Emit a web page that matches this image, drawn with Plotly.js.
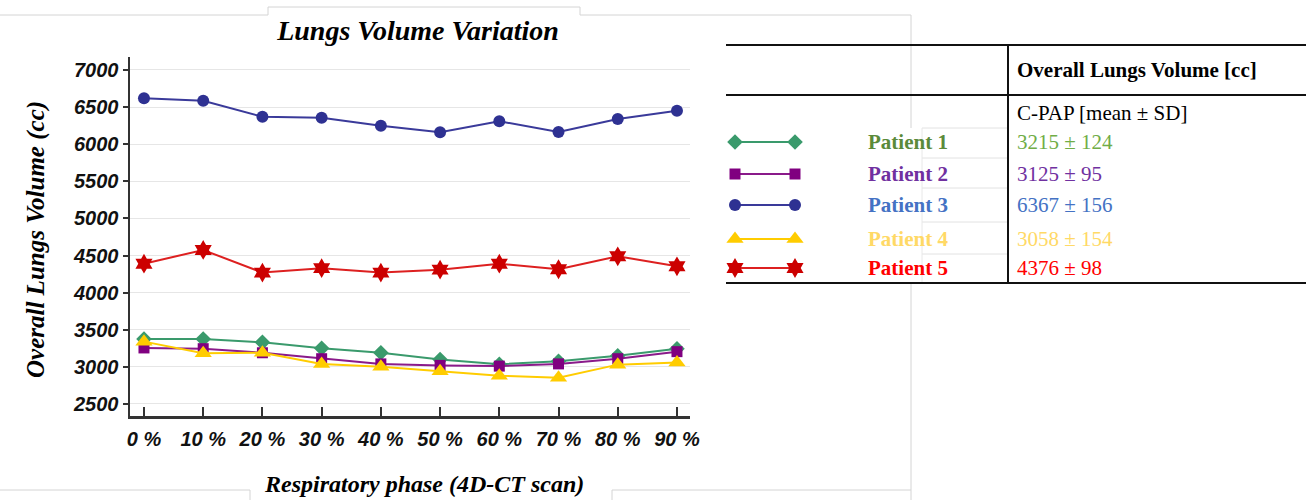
<!DOCTYPE html>
<html><head><meta charset="utf-8">
<script src="https://cdn.plot.ly/plotly-3.0.1.min.js"></script>
<style>html,body{margin:0;padding:0;background:#fff}#chart{width:1306px;height:500px}</style>
</head><body><div id="chart"></div>
<script>
// ---- data ----
const phases = [0, 10, 20, 30, 40, 50, 60, 70, 80, 90];
const phaseLabels = ['0 %', '10 %', '20 %', '30 %', '40 %', '50 %', '60 %', '70 %', '80 %', '90 %'];
const patientNames = ['Patient 1', 'Patient 2', 'Patient 3', 'Patient 4', 'Patient 5'];
const patient1 = [3375, 3375, 3330, 3250, 3190, 3100, 3035, 3075, 3150, 3245];
const patient2 = [3255, 3245, 3190, 3110, 3040, 3020, 3010, 3040, 3110, 3205];
const patient3 = [6620, 6585, 6370, 6355, 6250, 6160, 6310, 6165, 6340, 6450];
const patient4 = [3340, 3185, 3190, 3040, 3000, 2940, 2880, 2855, 3030, 3060];
const patient5 = [4390, 4575, 4270, 4330, 4270, 4310, 4390, 4315, 4490, 4355];
const meanSD = ['3215 ± 124', '3125 ± 95', '6367 ± 156', '3058 ± 154', '4376 ± 98'];

// ---- styles ----
const W = 1306, H = 500;
const styles = [
  {line: '#3a9a6c', marker: '#3a9a6c', symbol: 'diamond', size: 12, label: '#5b8a3a', value: '#70ad47'},
  {line: '#8a1a8a', marker: '#800080', symbol: 'square', size: 11, label: '#7030a0', value: '#7030a0'},
  {line: '#3a3a9a', marker: '#2e3192', symbol: 'circle', size: 12, label: '#4472c4', value: '#4472c4'},
  {line: '#ffcc00', marker: '#ffcc00', symbol: 'triangle-up', size: 15, label: '#ffd966', value: '#ffd966'},
  {line: '#dd2020', marker: '#cc0000', symbol: 'hexagram', size: 15, label: '#ff0000', value: '#ff0000'}
];
const series = [patient1, patient2, patient3, patient4, patient5];

const traces = [];
series.forEach((ys, i) => {
  const s = styles[i];
  traces.push({
    x: phases, y: ys, type: 'scatter', mode: 'lines+markers', name: patientNames[i],
    line: {color: s.line, width: 2},
    marker: {color: s.marker, symbol: s.symbol, size: s.size},
    showlegend: false, hoverinfo: 'x+y', cliponaxis: false
  });
});

// legend samples in the table (pixel axes spanning the whole figure)
const rowY = [142, 174, 205, 239, 268];
series.forEach((ys, i) => {
  const s = styles[i];
  traces.push({
    x: [735, 795], y: [rowY[i], rowY[i]], xaxis: 'x2', yaxis: 'y2',
    type: 'scatter', mode: 'lines+markers',
    line: {color: s.line, width: 2},
    marker: {color: s.marker, symbol: s.symbol, size: s.size},
    showlegend: false, hoverinfo: 'skip', cliponaxis: false
  });
});

const px = v => v / W, py = v => 1 - v / H;

const shapes = [];
const L = (x0, y0, x1, y1, color, width) => shapes.push({type: 'line', xref: 'paper', yref: 'paper',
  x0: px(x0), y0: py(y0), x1: px(x1), y1: py(y1), line: {color, width}, layer: 'below'});
// faint frame artefacts
const g = '#d4d4d4';
L(0, 15, 268, 15, g, 1); L(268, 7, 580, 7, g, 1); L(268, 7, 268, 15, g, 1); L(580, 7, 580, 15, g, 1);
L(580, 15, 911, 15, g, 1); L(911, 15, 911, 128, g, 1); L(911, 283, 911, 500, g, 1);
L(0, 490, 250, 490, g, 1); L(250, 490, 250, 500, g, 1); L(612, 490, 911, 490, g, 1); L(612, 490, 612, 500, g, 1);
// table cell faint borders
[128, 158, 188, 222, 254].forEach(y => L(922, y, 1008, y, '#e2e2e2', 1));
L(922, 128, 922, 283, '#e8e8e8', 1);
// table rules
L(726, 45, 1306, 45, '#111', 2);
L(726, 95, 1306, 95, '#111', 2);
L(726, 283, 1306, 283, '#111', 2);
L(1008, 45, 1008, 283, '#111', 2);

const annotations = [];
const A = (x, y, text, font, xanchor, extra) => annotations.push(Object.assign({xref: 'paper', yref: 'paper',
  x: px(x), y: py(y), xanchor: xanchor || 'left', yanchor: 'middle', showarrow: false, text, font}, extra || {}));
A(1015, 70, 'Overall Lungs Volume [cc]', {family: 'Liberation Serif, serif', size: 21, color: '#000', weight: 'bold'});
A(1015, 113, 'C-PAP [mean ± SD]', {family: 'Liberation Serif, serif', size: 21, color: '#000'});
patientNames.forEach((n, i) => {
  A(908, rowY[i], n, {family: 'Liberation Serif, serif', size: 21, color: styles[i].label, weight: 'bold'}, 'center');
  A(1015, rowY[i], meanSD[i], {family: 'Liberation Serif, serif', size: 21, color: styles[i].value});
});
// axis titles
A(424, 484, 'Respiratory phase (4D-CT scan)', {family: 'Liberation Serif, serif', size: 24, color: '#000', weight: 'bold', style: 'italic'}, 'center');
A(36, 240, 'Overall Lungs Volume (cc)', {family: 'Liberation Serif, serif', size: 25, color: '#000', weight: 'bold', style: 'italic'}, 'center', {textangle: -90});

const tickFont = {family: 'Liberation Sans, Arial, sans-serif', size: 20, color: '#111', weight: 'bold', style: 'italic'};

const layout = {
  width: W, height: H,
  margin: {l: 0, r: 0, t: 0, b: 0},
  paper_bgcolor: '#fff', plot_bgcolor: 'rgba(0,0,0,0)',
  showlegend: false,
  title: {text: 'Lungs Volume Variation', x: px(418), xanchor: 'center', y: py(30), yanchor: 'middle', xref: 'paper', yref: 'paper',
    font: {family: 'Liberation Serif, serif', size: 28, color: '#000', weight: 'bold', style: 'italic'}},
  xaxis: {domain: [px(130), px(690)], range: [-2.36, 92.2], tickvals: phases, ticktext: phaseLabels,
    showgrid: false, zeroline: false, showline: true, linecolor: '#333', linewidth: 2.5,
    ticks: 'inside', ticklen: 9, tickwidth: 2, tickcolor: '#333', tickfont: tickFont, ticklabelstandoff: 3, anchor: 'y'},
  yaxis: {domain: [py(416), py(57)], range: [2338, 7175], tickvals: [2500, 3000, 3500, 4000, 4500, 5000, 5500, 6000, 6500, 7000],
    showgrid: true, gridcolor: '#e6e6e6', gridwidth: 1, zeroline: false, showline: true, linecolor: '#333', linewidth: 2.5,
    ticks: 'outside', ticklen: 5, tickwidth: 2, tickcolor: '#333', tickfont: tickFont, anchor: 'x'},
  xaxis2: {domain: [0, 1], range: [0, W], visible: false, fixedrange: true, anchor: 'y2'},
  yaxis2: {domain: [0, 1], range: [H, 0], visible: false, fixedrange: true, anchor: 'x2'},
  shapes, annotations
};

Plotly.newPlot('chart', traces, layout, {displayModeBar: false, staticPlot: true});
</script></body></html>
